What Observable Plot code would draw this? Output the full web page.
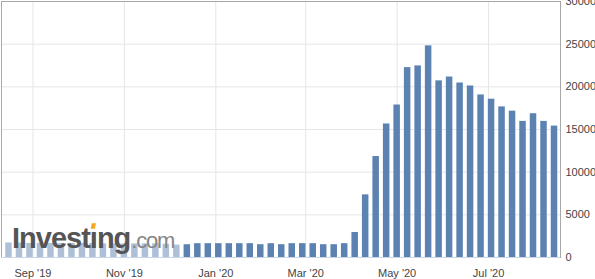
<!DOCTYPE html>
<html><head><meta charset="utf-8">
<script src="https://cdn.jsdelivr.net/npm/d3@7"></script>
<script src="https://cdn.jsdelivr.net/npm/@observablehq/plot@0.6"></script>
<style>html,body{margin:0;padding:0;background:#fff;} svg{display:block}</style>
</head><body><div id="chart"></div>
<script>
// Weekly observations
const weeks = [
  "2019-08-16","2019-08-23","2019-08-30","2019-09-06","2019-09-13","2019-09-20","2019-09-27",
  "2019-10-04","2019-10-11","2019-10-18","2019-10-25","2019-11-01","2019-11-08","2019-11-15",
  "2019-11-22","2019-11-29","2019-12-06","2019-12-13","2019-12-20","2019-12-27","2020-01-03",
  "2020-01-10","2020-01-17","2020-01-24","2020-01-31","2020-02-07","2020-02-14","2020-02-21",
  "2020-02-28","2020-03-06","2020-03-13","2020-03-20","2020-03-27","2020-04-03","2020-04-10",
  "2020-04-17","2020-04-24","2020-05-01","2020-05-08","2020-05-15","2020-05-22","2020-05-29",
  "2020-06-05","2020-06-12","2020-06-19","2020-06-26","2020-07-03","2020-07-10","2020-07-17",
  "2020-07-24","2020-07-31","2020-08-07","2020-08-14"
];
const values = [
  1700,1700,1650,1650,1650,1650,1650,1650,1650,1600,1600,1600,1600,1600,1600,1550,1450,
  1500,1620,1620,1620,1620,1620,1620,1500,1620,1500,1620,1620,1620,1500,1500,1620,
  2930,7340,11830,15650,17870,22250,22450,24800,20700,21150,20450,20100,19050,18550,
  17650,17150,15950,16850,15950,15400
];
const xTicks = ["2019-09-01","2019-11-01","2020-01-01","2020-03-01","2020-05-01","2020-07-01"];
const yTicks = [0,5000,10000,15000,20000,25000,30000];
const xDomain = ["2019-08-11","2020-08-18"];
const fadedBefore = "2019-12-10";   // bars behind the watermark panel are faded

const parse = d3.utcParse("%Y-%m-%d");
const data = weeks.map((w, i) => ({date: parse(w), value: values[i]}));
const faded = parse(fadedBefore);
const dark = "#5b82b0", light = "#adc0d8";

const plot = Plot.plot({
  width: 595,
  height: 279,
  marginTop: 1,
  marginLeft: 1,
  marginRight: 35,
  marginBottom: 22,
  style: {fontFamily: "'Liberation Sans', Arial, sans-serif", fontSize: "11px", background: "#fff", overflow: "hidden"},
  x: {type: "utc", domain: xDomain.map(parse)},
  y: {domain: [0, 30000]},
  color: {type: "identity"},
  marks: [
    Plot.gridX(xTicks.map(parse), {stroke: "#e6e6e6", strokeOpacity: 1}),
    Plot.gridY(yTicks, {stroke: "#e6e6e6", strokeOpacity: 1}),
    Plot.rectY(data, {
      x1: d => d3.utcHour.offset(d.date, -52),
      x2: d => d3.utcHour.offset(d.date, 52),
      y: "value",
      fill: d => d.date < faded ? light : dark
    }),
    Plot.frame({stroke: "#a8a8a8"}),
    Plot.ruleY([0], {stroke: "#ccd6eb"}),
    Plot.axisY(yTicks, {anchor: "right", tickSize: 0, tickPadding: 5, tickFormat: d => d3.format("d")(d), fill: "#444", label: null}),
    Plot.axisX(xTicks.map(parse), {anchor: "bottom", tickSize: 0, tickPadding: 12, tickFormat: d3.utcFormat("%b '%y"), fill: "#444", label: null})
  ]
});
document.getElementById("chart").appendChild(plot);

// Investing.com watermark
const svg = d3.select(plot);
const logo = svg.append("g").attr("text-anchor", "start");
const t = logo.append("text")
  .attr("x", 12).attr("y", 248)
  .attr("text-anchor", "start")
  .attr("fill", "#555")
  .style("font-family", "'Liberation Sans', Arial, sans-serif")
  .style("font-weight", "bold")
  .style("font-size", "29px")
  .style("letter-spacing", "-1px");
t.append("tspan").text("Invest");
t.append("tspan").text("\u0131");
t.append("tspan").text("ng");
const bb = t.node().getBBox();
logo.append("text")
  .attr("x", bb.x + bb.width + 1).attr("y", 248)
  .attr("text-anchor", "start")
  .attr("fill", "#858585")
  .style("font-family", "'Liberation Sans', Arial, sans-serif")
  .style("font-size", "22px")
  .style("letter-spacing", "-1.2px")
  .text(".com");
const ext = t.node().getExtentOfChar(6);
const cx = ext.x + ext.width / 2;
logo.append("polygon")
  .attr("points", [[cx-2.6,228.7],[cx+1.6,228.7],[cx+2.6,223.3],[cx-1.6,223.3]].map(p => p.join(",")).join(" "))
  .attr("fill", "#f5a623");
</script>
</body></html>
